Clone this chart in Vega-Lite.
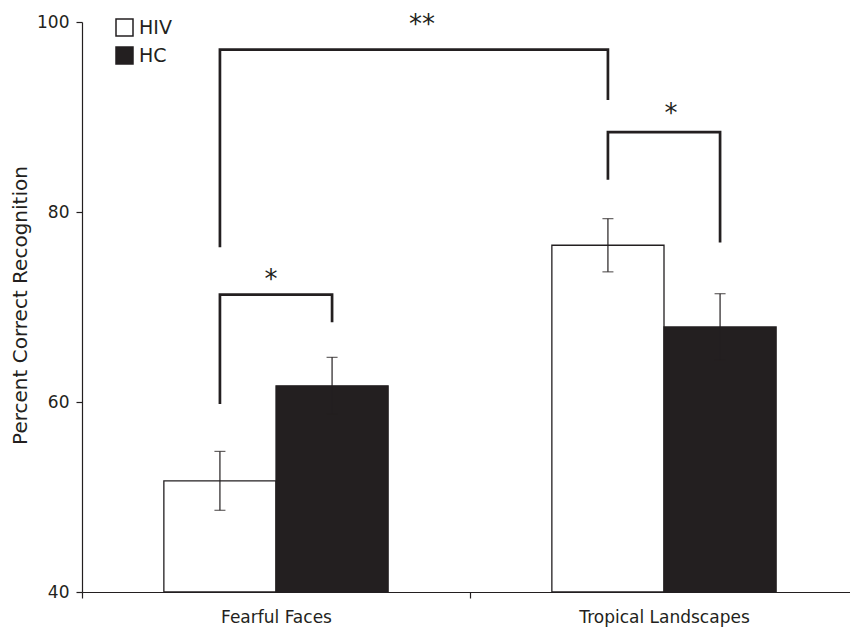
{
  "$schema": "https://vega.github.io/schema/vega-lite/v6.json",
  "width": 768,
  "height": 570,
  "autosize": {"type": "none"},
  "padding": {"left": 82, "top": 22, "right": 0, "bottom": 37},
  "background": "white",
  "config": {
    "view": {"stroke": null},
    "font": "DejaVu Sans",
    "axis": {"domainColor": "#231f20", "tickColor": "#231f20", "labelColor": "#231f20", "titleColor": "#231f20", "grid": false, "domainWidth": 1.2, "tickWidth": 1.2}
  },
  "datasets": {
    "bars": [
      {"category": "Fearful Faces", "group": "HIV", "value": 51.7, "lower": 48.6, "upper": 54.8},
      {"category": "Fearful Faces", "group": "HC", "value": 61.7, "lower": 58.7, "upper": 64.7},
      {"category": "Tropical Landscapes", "group": "HIV", "value": 76.5, "lower": 73.7, "upper": 79.3},
      {"category": "Tropical Landscapes", "group": "HC", "value": 67.9, "lower": 64.4, "upper": 71.4}
    ],
    "brackets": [
      {"bracket": "ff", "step": 1, "category": "Fearful Faces", "group": "HIV", "value": 59.8},
      {"bracket": "ff", "step": 2, "category": "Fearful Faces", "group": "HIV", "value": 71.3},
      {"bracket": "ff", "step": 3, "category": "Fearful Faces", "group": "HC", "value": 71.3},
      {"bracket": "ff", "step": 4, "category": "Fearful Faces", "group": "HC", "value": 68.4},
      {"bracket": "tl", "step": 1, "category": "Tropical Landscapes", "group": "HIV", "value": 83.4},
      {"bracket": "tl", "step": 2, "category": "Tropical Landscapes", "group": "HIV", "value": 88.4},
      {"bracket": "tl", "step": 3, "category": "Tropical Landscapes", "group": "HC", "value": 88.4},
      {"bracket": "tl", "step": 4, "category": "Tropical Landscapes", "group": "HC", "value": 76.8},
      {"bracket": "all", "step": 1, "category": "Fearful Faces", "group": "HIV", "value": 76.3},
      {"bracket": "all", "step": 2, "category": "Fearful Faces", "group": "HIV", "value": 97.1},
      {"bracket": "all", "step": 3, "category": "Tropical Landscapes", "group": "HIV", "value": 97.1},
      {"bracket": "all", "step": 4, "category": "Tropical Landscapes", "group": "HIV", "value": 91.8}
    ],
    "stars": [
      {"id": "ff", "label": "*", "category": "Fearful Faces", "value": 72.0},
      {"id": "tl", "label": "*", "category": "Tropical Landscapes", "value": 89.5},
      {"id": "all", "label": "**", "category": "Fearful Faces", "value": 98.8}
    ]
  },
  "layer": [
    {
      "data": {"name": "bars"},
      "mark": {"type": "bar", "stroke": "#231f20", "strokeWidth": 1.3},
      "encoding": {
        "x": {"field": "category", "type": "nominal", "scale": {"domain": ["Fearful Faces", "Tropical Landscapes"], "range": [0, 776], "paddingInner": 0, "paddingOuter": 0},
              "axis": {"title": null, "labelFontSize": 17, "labelAngle": 0, "tickBand": "extent", "tickSize": 6, "labelPadding": 11}},
        "xOffset": {"field": "group", "type": "nominal", "scale": {"domain": ["HIV", "HC"], "paddingInner": 0, "paddingOuter": 0.73}},
        "y": {"field": "value", "type": "quantitative", "title": "Percent Correct Recognition",
              "scale": {"domain": [40, 100], "zero": false, "nice": false},
              "axis": {"values": [40, 60, 80, 100], "tickSize": 6, "labelFontSize": 17, "labelPadding": 7, "titleFontSize": 20, "titleFontWeight": "normal", "titleX": -56, "titleY": 283, "titleBaseline": "alphabetic", "titleAngle": 270}},
        "y2": {"datum": 40},
        "fill": {"field": "group", "type": "nominal", "scale": {"domain": ["HIV", "HC"], "range": ["#ffffff", "#231f20"]},
                 "legend": {"orient": "none", "legendX": 33, "legendY": -4, "title": null, "symbolType": "square", "symbolSize": 289, "symbolStrokeColor": "#231f20", "symbolStrokeWidth": 1.5, "labelFontSize": 19, "labelColor": "#231f20", "rowPadding": 5, "labelOffset": 5, "padding": 0}}
      }
    },
    {
      "data": {"name": "bars"},
      "mark": {"type": "rule", "color": "#231f20", "strokeWidth": 1.2},
      "encoding": {
        "x": {"field": "category", "type": "nominal"},
        "xOffset": {"field": "group", "type": "nominal"},
        "y": {"field": "lower", "type": "quantitative", "title": "Percent Correct Recognition"},
        "y2": {"field": "upper"}
      }
    },
    {
      "data": {"name": "bars"},
      "mark": {"type": "tick", "color": "#231f20", "thickness": 1.2, "size": 11},
      "encoding": {
        "x": {"field": "category", "type": "nominal"},
        "xOffset": {"field": "group", "type": "nominal"},
        "y": {"field": "upper", "type": "quantitative", "title": "Percent Correct Recognition"}
      }
    },
    {
      "data": {"name": "bars"},
      "mark": {"type": "tick", "color": "#231f20", "thickness": 1.2, "size": 11},
      "encoding": {
        "x": {"field": "category", "type": "nominal"},
        "xOffset": {"field": "group", "type": "nominal"},
        "y": {"field": "lower", "type": "quantitative", "title": "Percent Correct Recognition"}
      }
    },
    {
      "data": {"name": "brackets"},
      "mark": {"type": "line", "color": "#231f20", "strokeWidth": 2.7, "strokeJoin": "miter", "strokeCap": "butt"},
      "encoding": {
        "x": {"field": "category", "type": "nominal"},
        "xOffset": {"field": "group", "type": "nominal"},
        "y": {"field": "value", "type": "quantitative", "title": "Percent Correct Recognition"},
        "detail": {"field": "bracket"},
        "order": {"field": "step", "type": "quantitative"}
      }
    },
    {
      "data": {"name": "stars"},
      "transform": [{"filter": "datum.id === 'ff'"}],
      "mark": {"type": "text", "fontSize": 26, "color": "#231f20", "baseline": "alphabetic", "dx": -5},
      "encoding": {
        "x": {"field": "category", "type": "nominal"},
        "y": {"field": "value", "type": "quantitative", "title": "Percent Correct Recognition"},
        "text": {"field": "label"}
      }
    },
    {
      "data": {"name": "stars"},
      "transform": [{"filter": "datum.id === 'tl'"}],
      "mark": {"type": "text", "fontSize": 26, "color": "#231f20", "baseline": "alphabetic", "dx": 7},
      "encoding": {
        "x": {"field": "category", "type": "nominal"},
        "y": {"field": "value", "type": "quantitative", "title": "Percent Correct Recognition"},
        "text": {"field": "label"}
      }
    },
    {
      "data": {"name": "stars"},
      "transform": [{"filter": "datum.id === 'all'"}],
      "mark": {"type": "text", "fontSize": 26, "color": "#231f20", "baseline": "alphabetic", "dx": -48, "clip": false},
      "encoding": {
        "x": {"field": "category", "type": "nominal", "bandPosition": 1},
        "y": {"field": "value", "type": "quantitative", "title": "Percent Correct Recognition"},
        "text": {"field": "label"}
      }
    }
  ]
}
